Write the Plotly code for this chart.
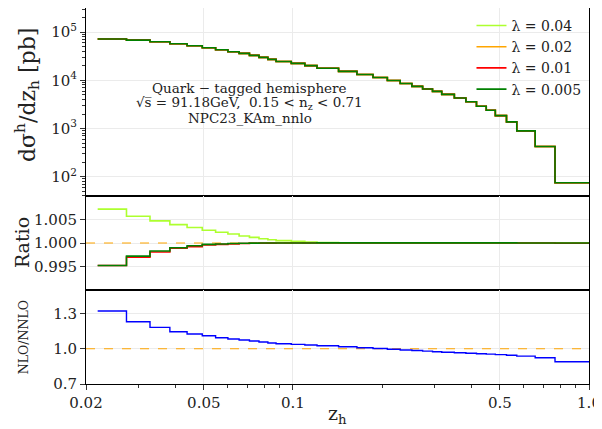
import numpy as np
import plotly.graph_objects as go
from plotly.subplots import make_subplots

# bin edges in z_h
z_edges = [0.0219, 0.0274, 0.0329, 0.0384, 0.0439, 0.0494, 0.0548, 0.0603, 0.0658,
           0.0713, 0.0768, 0.0823, 0.0877, 0.0987, 0.1097, 0.1206, 0.1426, 0.1645,
           0.1864, 0.2084, 0.2303, 0.2522, 0.2742, 0.2961, 0.3181, 0.3509, 0.3839,
           0.4168, 0.4497, 0.4826, 0.5264, 0.5703, 0.6580, 0.7677, 1.0]

# d sigma / dz_h [pb], (all lambda values overlap on this scale)
xsec = [71700, 68300, 63100, 57400, 52200, 47400, 43100, 39200, 36200, 32900,
        29900, 27200, 24500, 22500, 20200, 17800, 15300, 13200, 11400, 9900,
        8600, 7500, 6600, 5900, 5100, 4300, 3600, 2900, 2400, 1850,
        1370, 895, 424, 75]

# ratios to lambda = 0.02
ratio_004 = [1.0072, 1.0057, 1.0047, 1.0039, 1.0033, 1.0027, 1.0023, 1.0019, 1.0015,
             1.0012, 1.0009, 1.0007, 1.0005, 1.00035, 1.0002, 1.0001, 1.00005, 1.00003,
             1.00002, 1.00001, 1.0, 1.0, 1.0, 1.0, 1.0, 1.0, 1.0, 1.0, 1.0, 1.0,
             1.0, 1.0, 1.0, 1.0]
ratio_001 = [0.9952, 0.9970, 0.9981, 0.9989, 0.9992, 0.9996, 0.9997, 0.9998, 0.9999,
             0.99995, 0.99997, 0.99998, 1.0, 1.0, 1.0, 1.0, 1.0, 1.0, 1.0, 1.0,
             1.0, 1.0, 1.0, 1.0, 1.0, 1.0, 1.0, 1.0, 1.0, 1.0,
             1.0, 1.0, 1.0, 0.99995]
ratio_0005 = [0.9952, 0.9972, 0.9983, 0.9990, 0.9994, 0.9997, 0.9998, 0.9999, 0.99995,
              0.99998, 1.0, 1.0, 1.0, 1.0, 1.0, 1.00002, 1.00003, 1.00003, 1.00003,
              1.00003, 1.00003, 1.00003, 1.00003, 1.00003, 1.00003, 1.00003, 1.00003,
              1.00003, 1.00003, 1.00003, 1.00002, 1.0, 1.0, 1.0]

# NLO / NNLO
nlo_nnlo = [1.321, 1.230, 1.182, 1.145, 1.126, 1.110, 1.094, 1.083, 1.074, 1.066,
            1.057, 1.049, 1.043, 1.037, 1.032, 1.026, 1.017, 1.008, 1.002, 0.996,
            0.990, 0.985, 0.980, 0.975, 0.970, 0.966, 0.962, 0.958, 0.954, 0.950,
            0.945, 0.937, 0.924, 0.890]

lambdas = ["0.04", "0.02", "0.01", "0.005"]
colors = ["#adff2f", "#ffa500", "#ff0000", "#008000"]

x_ticks = [0.02, 0.05, 0.1, 0.5, 1.0]
x_ticktext = ["0.02", "0.05", "0.1", "0.5", "1.0"]

FONT = "DejaVu Serif"


def step(vals):
    return list(vals) + [vals[-1]]


fig = make_subplots(rows=3, cols=1, shared_xaxes=True, vertical_spacing=0,
                    row_heights=[0.5, 0.25, 0.25])

for lam, col in zip(lambdas, colors):
    fig.add_trace(go.Scatter(x=z_edges, y=step(xsec), mode="lines", line_shape="hv",
                             line=dict(color=col, width=1.6),
                             name="λ = " + lam), row=1, col=1)

# reference lines
for r in (2, 3):
    fig.add_trace(go.Scatter(x=[0.02, 1.0], y=[1.0, 1.0], mode="lines",
                             line=dict(color="#ffa500", width=1.2, dash="dash"),
                             showlegend=False, hoverinfo="skip"), row=r, col=1)

for vals, col in [(ratio_004, colors[0]), (ratio_001, colors[2]), (ratio_0005, colors[3])]:
    fig.add_trace(go.Scatter(x=z_edges, y=step(vals), mode="lines", line_shape="hv",
                             line=dict(color=col, width=1.6), showlegend=False),
                  row=2, col=1)

fig.add_trace(go.Scatter(x=z_edges, y=step(nlo_nnlo), mode="lines", line_shape="hv",
                         line=dict(color="#0000ff", width=1.4), showlegend=False),
              row=3, col=1)

axis_common = dict(showline=True, linecolor="black", linewidth=1, mirror=True,
                   gridcolor="#ebebeb", gridwidth=1, zeroline=False,
                   tickfont=dict(family=FONT, size=15, color="#222"),
                   ticks="outside", ticklen=5, tickcolor="#333")

minor_x = [m * 10.0 ** d for d in (-2, -1) for m in range(2, 10)]
minor_x = [v for v in minor_x if 0.02 < v < 1.0 and v not in x_ticks]

for r in (1, 2, 3):
    fig.update_xaxes(type="log", range=[np.log10(0.02), 0], tickvals=x_ticks,
                     ticktext=x_ticktext, row=r, col=1, **axis_common)
fig.update_xaxes(showticklabels=False, ticks="", row=1, col=1)
fig.update_xaxes(showticklabels=False, ticks="", row=2, col=1)
fig.update_xaxes(minor=dict(tickvals=minor_x, ticks="outside", ticklen=3,
                            tickcolor="#333", showgrid=False), row=3, col=1)

minor_y = [m * 10.0 ** d for d in range(1, 6) for m in range(2, 10)]
fig.update_yaxes(type="log", range=[1.6, 5.5], tickvals=[1e2, 1e3, 1e4, 1e5],
                 ticktext=["10<sup>2</sup>", "10<sup>3</sup>", "10<sup>4</sup>", "10<sup>5</sup>"],
                 minor=dict(tickvals=minor_y, ticks="outside", ticklen=3,
                            tickcolor="#333", showgrid=False),
                 row=1, col=1, **axis_common)
fig.update_yaxes(range=[0.99, 1.01], tickvals=[0.995, 1.0, 1.005],
                 ticktext=["0.995", "1.000", "1.005"], row=2, col=1, **axis_common)
fig.update_yaxes(range=[0.7, 1.5], tickvals=[0.7, 1.0, 1.3],
                 ticktext=["0.7", "1.0", "1.3"], row=3, col=1, **axis_common)

ann_font = dict(family=FONT, size=13.5, color="#222")
notes = [
    ("Quark − tagged hemisphere", 0.787),
    ("√s\u0305 = 91.18GeV,  0.15 < n<sub>z</sub> < 0.71", 0.747),
    ("NPC23_KAm_nnlo", 0.707),
]
for txt, yy in notes:
    fig.add_annotation(text=txt, xref="paper", yref="paper", x=0.326, y=yy,
                       xanchor="center", yanchor="middle",
                       showarrow=False, font=ann_font)

titles = [
    ("dσ<sup>h</sup>/dz<sub>h</sub> [pb]", -0.117, 0.769, 22),
    ("Ratio", -0.127, 0.375, 19),
    ("NLO/NNLO", -0.125, 0.125, 12.5),
]
for txt, xx, yy, size in titles:
    fig.add_annotation(text=txt, xref="paper", yref="paper", x=xx, y=yy,
                       xanchor="center", yanchor="middle",
                       textangle=-90, showarrow=False,
                       font=dict(family=FONT, size=size, color="#222"))

fig.add_annotation(text="z<sub>h</sub>", xref="paper", yref="paper", x=0.5, y=-0.08,
                   xanchor="center", yanchor="middle", showarrow=False,
                   font=dict(family=FONT, size=19, color="#222"))

# the page adds an 8px body margin, so the figure is drawn 8px smaller
fig.update_layout(
    width=594, height=421,
    margin=dict(l=78, r=13, t=0, b=45),
    paper_bgcolor="white", plot_bgcolor="white",
    font=dict(family=FONT, color="#222"),
    legend=dict(x=0.995, y=0.995, xanchor="right", yanchor="top",
                bgcolor="rgba(0,0,0,0)", font=dict(family=FONT, size=14),
                tracegroupgap=0),
    showlegend=True,
)

fig.write_html("out.html")
